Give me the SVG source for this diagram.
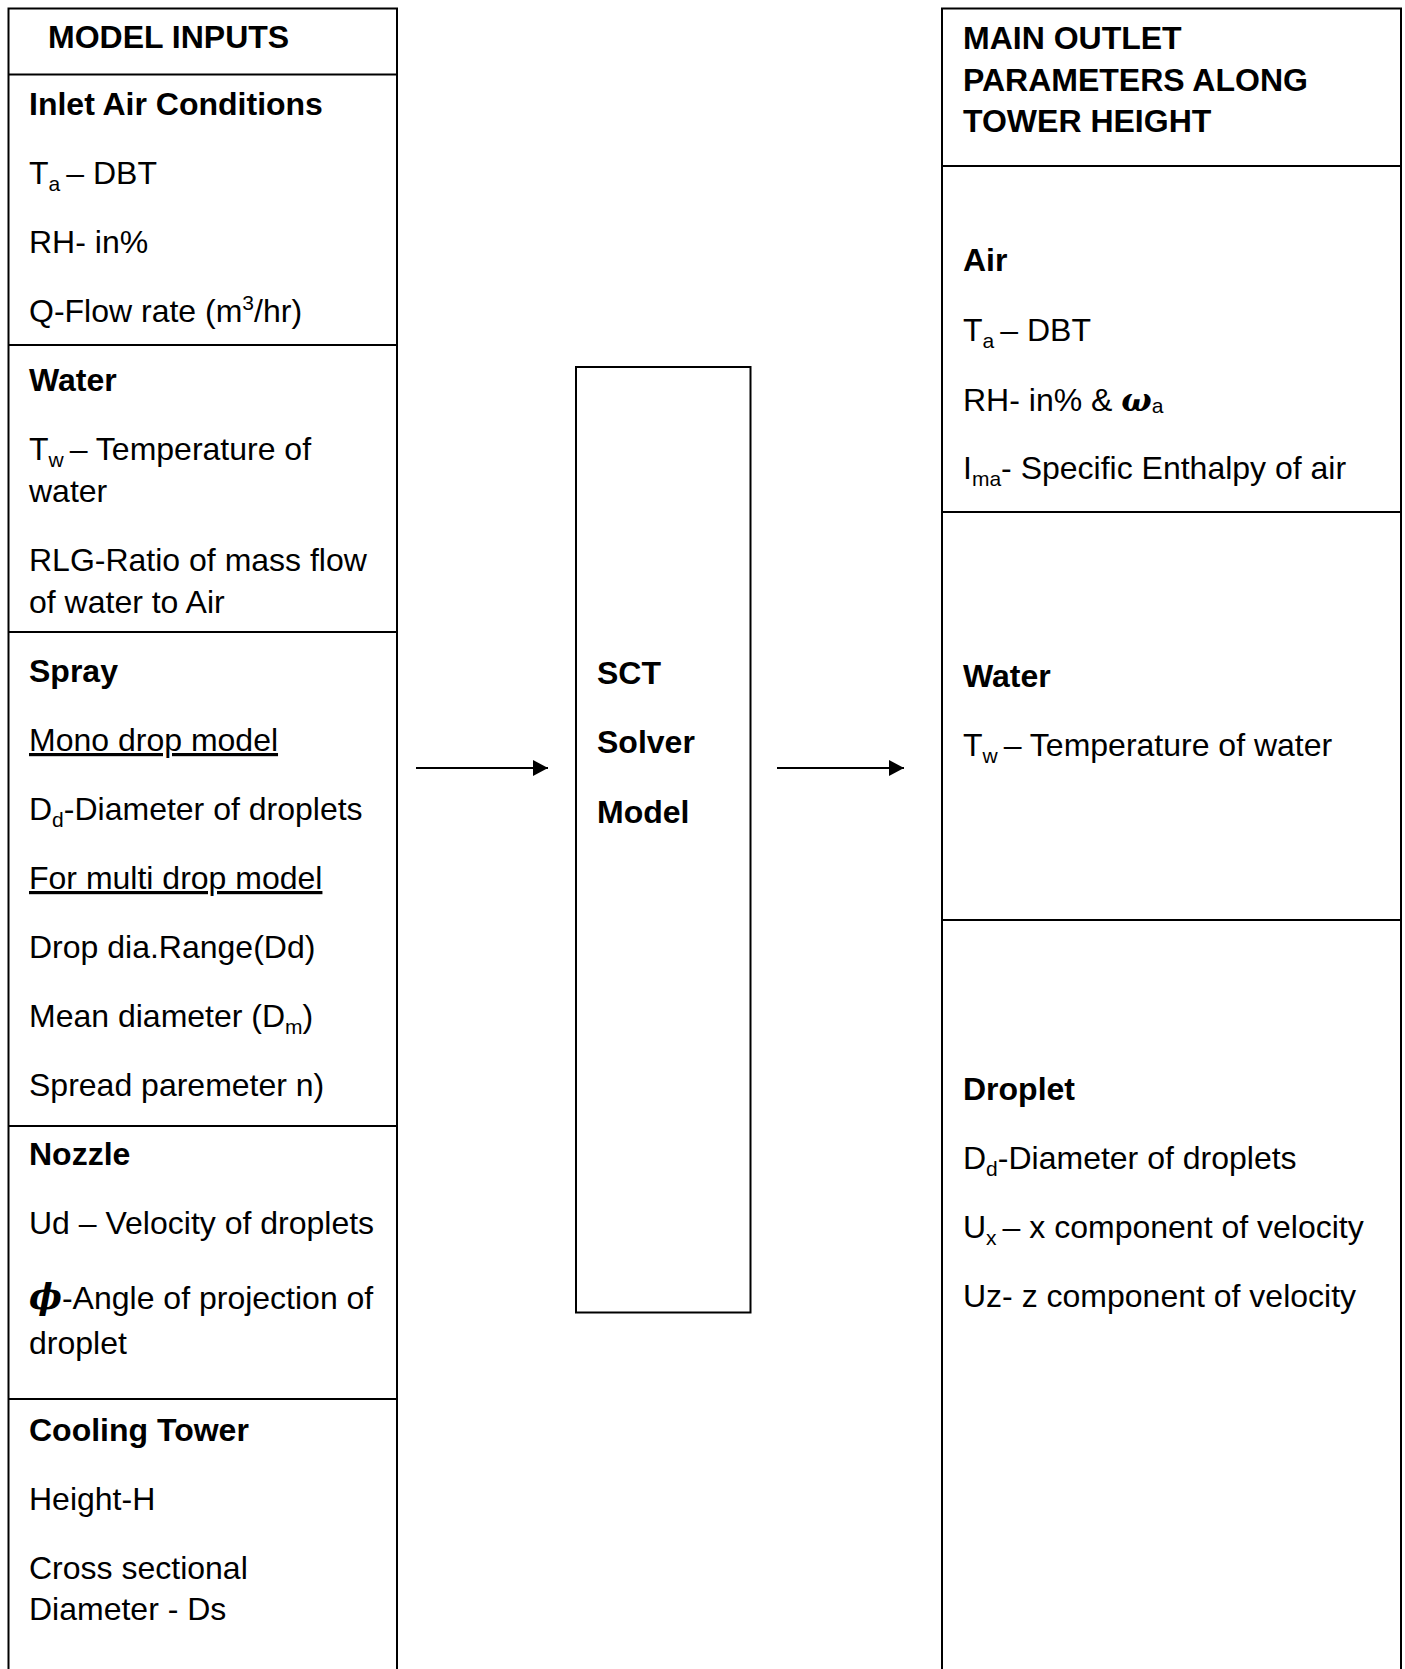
<svg xmlns="http://www.w3.org/2000/svg" width="1405" height="1669" viewBox="0 0 1405 1669">
<style>
text{font-family:"Liberation Sans",Arial,sans-serif;font-size:32px;fill:#000}
.b{font-weight:bold}
.sub{font-size:21px}
.gr{font-family:"DejaVu Serif","Liberation Serif",serif;font-weight:bold;font-style:italic}
.u{text-decoration:underline}
.box{fill:none;stroke:#000;stroke-width:2}
.div{stroke:#000;stroke-width:2}
.conn{stroke:#000;stroke-width:2;fill:none}
</style>
<defs>
<marker id="ah" markerWidth="16" markerHeight="16" refX="15" refY="8" orient="auto" markerUnits="userSpaceOnUse">
<path d="M0,0 L15,8 L0,16 Z" fill="#000"/>
</marker>
</defs>
<rect width="1405" height="1669" fill="#fff"/>

<g id="model-inputs">
<path class="box" d="M8.5,1680 V8.5 H397 V1680"/>
<line class="div" x1="8.5" y1="74.5" x2="397" y2="74.5"/>
<line class="div" x1="8.5" y1="345" x2="397" y2="345"/>
<line class="div" x1="8.5" y1="632" x2="397" y2="632"/>
<line class="div" x1="8.5" y1="1126" x2="397" y2="1126"/>
<line class="div" x1="8.5" y1="1399" x2="397" y2="1399"/>
<text class="b" x="48" y="48">MODEL INPUTS</text>
<text class="b" x="29" y="115">Inlet Air Conditions</text>
<text x="29" y="184">T<tspan class="sub" dy="7">a</tspan><tspan dy="-7" dx="6">– DBT</tspan></text>
<text x="29" y="253">RH- in%</text>
<text x="29" y="322">Q-Flow rate (m<tspan class="sub" dy="-12">3</tspan><tspan dy="12">/hr)</tspan></text>
<text class="b" x="29" y="391">Water</text>
<text x="29" y="460">T<tspan class="sub" dy="7">w</tspan><tspan dy="-7" dx="6">– Temperature of</tspan></text>
<text x="29" y="502">water</text>
<text x="29" y="571">RLG-Ratio of mass flow</text>
<text x="29" y="613">of water to Air</text>
<text class="b" x="29" y="682">Spray</text>
<text class="u" x="29" y="751">Mono drop model</text>
<text x="29" y="820">D<tspan class="sub" dy="7">d</tspan><tspan dy="-7">-Diameter of droplets</tspan></text>
<text class="u" x="29" y="889">For multi drop model</text>
<text x="29" y="958">Drop dia.Range(Dd)</text>
<text x="29" y="1027">Mean diameter (D<tspan class="sub" dy="7">m</tspan><tspan dy="-7">)</tspan></text>
<text x="29" y="1096">Spread paremeter n)</text>
<text class="b" x="29" y="1165">Nozzle</text>
<text x="29" y="1234">Ud – Velocity of droplets</text>
<text x="29" y="1309"><tspan class="gr" font-size="35">ϕ</tspan>-Angle of projection of</text>
<text x="29" y="1354">droplet</text>
<text class="b" x="29" y="1441">Cooling Tower</text>
<text x="29" y="1510">Height-H</text>
<text x="29" y="1579">Cross sectional</text>
<text x="29" y="1620">Diameter - Ds</text>
</g>

<g id="sct-solver">
<rect class="box" x="576" y="367" width="174.5" height="945.5"/>
<text class="b" x="597" y="684">SCT</text>
<text class="b" x="597" y="753">Solver</text>
<text class="b" x="597" y="823">Model</text>
</g>

<g id="outlet-parameters">
<path class="box" d="M942,1680 V8.5 H1401 V1680"/>
<line class="div" x1="942" y1="166" x2="1401" y2="166"/>
<line class="div" x1="942" y1="512" x2="1401" y2="512"/>
<line class="div" x1="942" y1="920" x2="1401" y2="920"/>
<text class="b" x="963" y="49">MAIN OUTLET</text>
<text class="b" x="963" y="91">PARAMETERS ALONG</text>
<text class="b" x="963" y="132">TOWER HEIGHT</text>
<text class="b" x="963" y="271">Air</text>
<text x="963" y="341">T<tspan class="sub" dy="7">a</tspan><tspan dy="-7" dx="6">– DBT</tspan></text>
<text x="963" y="411">RH- in% &amp; <tspan class="gr">ω</tspan><tspan class="sub" dy="2">a</tspan></text>
<text x="963" y="479">I<tspan class="sub" dy="7">ma</tspan><tspan dy="-7">- Specific Enthalpy of air</tspan></text>
<text class="b" x="963" y="687">Water</text>
<text x="963" y="756">T<tspan class="sub" dy="7">w</tspan><tspan dy="-7" dx="6">– Temperature of water</tspan></text>
<text class="b" x="963" y="1100">Droplet</text>
<text x="963" y="1169">D<tspan class="sub" dy="7">d</tspan><tspan dy="-7">-Diameter of droplets</tspan></text>
<text x="963" y="1238">U<tspan class="sub" dy="7">x</tspan><tspan dy="-7" dx="6">– x component of velocity</tspan></text>
<text x="963" y="1307">Uz- z component of velocity</text>
</g>

<g id="connectors">
<line class="conn" x1="416" y1="768" x2="548" y2="768" marker-end="url(#ah)"/>
<line class="conn" x1="777" y1="768" x2="904" y2="768" marker-end="url(#ah)"/>
</g>
</svg>
